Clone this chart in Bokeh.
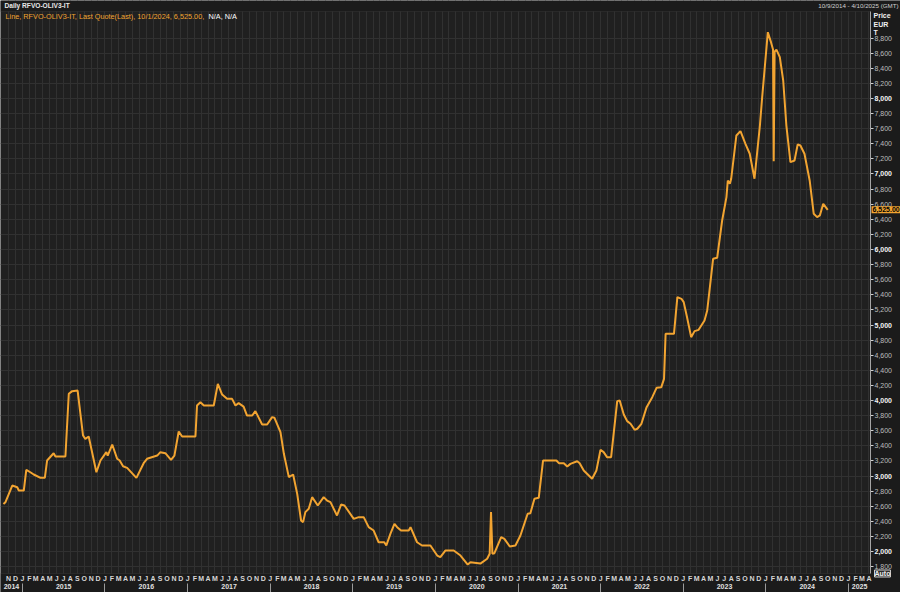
import pandas as pd
from bokeh.plotting import figure
from bokeh.models import (Range1d, FixedTicker, LinearAxis, Label, NumeralTickFormatter,
                          BoxAnnotation)
from bokeh.embed import file_html
from bokeh.resources import INLINE

# ---------------- data ----------------
dates = [
    "2014-10-09", "2014-10-18", "2014-11-17", "2014-12-09", "2014-12-16",
    "2015-01-07", "2015-01-18", "2015-02-05", "2015-02-20", "2015-03-22", "2015-04-10", "2015-04-20",
    "2015-05-19", "2015-05-27", "2015-07-10", "2015-07-25", "2015-08-09", "2015-09-02", "2015-09-26",
    "2015-10-06", "2015-10-21", "2015-11-24", "2015-12-12",
    "2016-01-07", "2016-01-13", "2016-02-02", "2016-02-24", "2016-03-06", "2016-03-21", "2016-04-08",
    "2016-05-19", "2016-06-20", "2016-07-05", "2016-08-19", "2016-09-02", "2016-09-24", "2016-10-19",
    "2016-11-03", "2016-11-22", "2016-12-07",
    "2017-02-04", "2017-02-11", "2017-02-26", "2017-03-13", "2017-04-26", "2017-05-14", "2017-06-02",
    "2017-06-24", "2017-07-16", "2017-07-31", "2017-08-14", "2017-09-05", "2017-09-20", "2017-10-13",
    "2017-10-27", "2017-11-26", "2017-12-18",
    "2018-01-09", "2018-01-19", "2018-02-15", "2018-03-02", "2018-03-24", "2018-04-12", "2018-04-30",
    "2018-05-17", "2018-05-26", "2018-06-05", "2018-06-20", "2018-07-05", "2018-07-30", "2018-08-25",
    "2018-09-09", "2018-09-24", "2018-10-23", "2018-11-10", "2018-11-25",
    "2019-01-05", "2019-01-27", "2019-02-18", "2019-03-12", "2019-04-03", "2019-04-25", "2019-05-20",
    "2019-05-29", "2019-06-16", "2019-07-04", "2019-07-16", "2019-08-02", "2019-09-05", "2019-09-13",
    "2019-10-12", "2019-11-03", "2019-12-10",
    "2020-01-09", "2020-01-23", "2020-02-14", "2020-03-22", "2020-04-21", "2020-05-23", "2020-06-04",
    "2020-07-18", "2020-08-17", "2020-08-28", "2020-09-03", "2020-09-09", "2020-09-18", "2020-10-18",
    "2020-11-01", "2020-11-25", "2020-12-20",
    "2021-01-11", "2021-02-12", "2021-02-24", "2021-03-14", "2021-04-02", "2021-04-21", "2021-06-19",
    "2021-06-30", "2021-07-22", "2021-08-06", "2021-08-20", "2021-09-19", "2021-09-30", "2021-10-18",
    "2021-11-24", "2021-12-13", "2021-12-31",
    "2022-01-14", "2022-01-29", "2022-02-16", "2022-03-15", "2022-03-26", "2022-04-13", "2022-04-28",
    "2022-05-13", "2022-05-31", "2022-06-12", "2022-06-30", "2022-07-23", "2022-08-17", "2022-09-05",
    "2022-09-26", "2022-10-08", "2022-10-15", "2022-11-21", "2022-12-06", "2022-12-24",
    "2023-01-03", "2023-01-18", "2023-02-05", "2023-02-20", "2023-03-10", "2023-04-05", "2023-04-17",
    "2023-05-13", "2023-05-31", "2023-06-22", "2023-07-11", "2023-07-17", "2023-07-26", "2023-08-01",
    "2023-08-24", "2023-09-11", "2023-10-03", "2023-10-22", "2023-11-12", "2023-12-06", "2023-12-16",
    "2024-01-10", "2024-01-24", "2024-02-02", "2024-02-05", "2024-02-09", "2024-02-17", "2024-03-03",
    "2024-03-18", "2024-04-01", "2024-04-19", "2024-05-07", "2024-05-21", "2024-06-02", "2024-06-20",
    "2024-07-13", "2024-07-31", "2024-08-15", "2024-08-27", "2024-09-11", "2024-10-01",
]
prices = [
    2630, 2654, 2874, 2852, 2808,
    2808, 3082, 3050, 3020, 2976, 2976, 3205, 3302, 3258, 3258, 4089, 4124, 4132, 3536, 3492, 3523, 3050, 3205,
    3316, 3271, 3417, 3228, 3205, 3130, 3108, 2976, 3170, 3228, 3271, 3316, 3302, 3214, 3271, 3589, 3523,
    3523, 3934, 3978, 3934, 3934, 4221, 4079, 4022, 4022, 3934, 3965, 3920, 3801, 3801, 3860, 3682, 3682,
    3780, 3772, 3581, 3294, 2985, 3020, 2764, 2411, 2389, 2522, 2566, 2720, 2610, 2720, 2675, 2654, 2477,
    2622, 2610,
    2433, 2455, 2455, 2323, 2278, 2123, 2123, 2080, 2234, 2367, 2323, 2278, 2278, 2323, 2123, 2080, 2080,
    1947, 1925, 2013, 2013, 1947, 1828, 1859, 1840, 1904, 1970, 2522, 1970, 1978, 2190, 2168, 2066, 2080,
    2212, 2500, 2508, 2698, 2712, 3205, 3205, 3170, 3170, 3126, 3161, 3196, 3170, 3073, 2963, 3073, 3347,
    3316, 3250, 3250, 3992, 4000, 3815, 3727, 3692, 3612, 3626, 3692, 3912, 4044, 4168, 4177, 4287, 4883,
    4883, 5369, 5347,
    5303, 5100, 4839, 4919, 4936, 5060, 5192, 5877, 5890, 6384, 6694, 6914, 6870, 6937, 7510, 7568, 7400,
    7268, 6937, 7642, 8017,
    8878, 8746, 8650, 7170, 8620, 8646, 8548, 8238, 7642, 7157, 7179, 7391, 7378, 7268, 6914, 6473, 6429,
    6451, 6605, 6525,
]
month_letters = ["J", "F", "M", "A", "M", "J", "J", "A", "S", "O", "N", "D"]
year_labels = ["2014", "2015", "2016", "2017", "2018", "2019", "2020", "2021", "2022", "2023", "2024", "2025"]
first_month, last_month = "2014-11-01", "2025-04-01"
y_ticks = list(range(1800, 9000, 200))
x_start, x_end = "2014-09-26", "2025-04-08"
y_start, y_end = 1709, 9152
ticker_name = "RFVO-OLIV3-IT"
last_date_text = "10/1/2024"
header_range = "10/9/2014 - 4/10/2025 (GMT)"
unit_labels = ["Price", "EUR", "T"]

# ---------------- layout / style ----------------
W, H = 900, 592
PLOT_W = 870          # px of the price area (left of the price scale)
HEADER_H = 11         # px of the header bar above the price area
BOTTOM_H = 19         # px of the month / year rows
PLOT_H = H - HEADER_H - BOTTOM_H
ORANGE = "#f2a431"
FONT = "Liberation Sans"
BG = "#202020"
BORDER = "#1b1b1b"
GRID = "#313131"


def ms(d):
    return int(pd.Timestamp(d).value // 10**6)


x0, x1 = ms(x_start), ms(x_end)
x_per_px = (x1 - x0) / PLOT_W
y_per_px = (y_end - y_start) / PLOT_H
xr_end = x1 + (W - PLOT_W) * x_per_px
yr_end = y_end + HEADER_H * y_per_px
yr_start = y_start - BOTTOM_H * y_per_px


def cx(px):
    return x0 + px * x_per_px


def cy(py):
    return yr_end - py * y_per_px


p = figure(width=W, height=H, output_backend="svg", toolbar_location=None,
           x_axis_type="datetime", y_axis_location="right",
           x_range=Range1d(x0, xr_end), y_range=Range1d(yr_start, yr_end),
           min_border_left=0, min_border_right=0, min_border_top=0, min_border_bottom=0)
p.background_fill_color = BG
p.border_fill_color = BORDER
p.outline_line_color = None

# grids
months = pd.date_range(first_month, last_month, freq="MS")
month_ticks = [ms(m) for m in months]
p.xgrid.ticker = FixedTicker(ticks=month_ticks)
p.ygrid.ticker = FixedTicker(ticks=y_ticks)
p.xgrid.grid_line_color = GRID
p.ygrid.grid_line_color = GRID

# header bar, price-scale panel and date rows (cover the grid there)
p.quad(left=[x0], right=[xr_end], bottom=[y_end], top=[yr_end], fill_color=BORDER, line_color=None)
p.quad(left=[x1], right=[xr_end], bottom=[y_start], top=[y_end], fill_color=BORDER, line_color=None)
p.quad(left=[x0], right=[xr_end], bottom=[yr_start], top=[y_start], fill_color=BORDER, line_color=None)

# price line
p.line(x=pd.to_datetime(dates), y=prices, line_color=ORANGE, line_width=2)

# border of the price area
p.add_layout(BoxAnnotation(left=x0, right=x1, bottom=y_start, top=y_end, fill_alpha=0,
                           line_color="#474747", line_width=1))

# month row
xa = p.xaxis[0]
xa.fixed_location = y_start
xa.ticker = FixedTicker(ticks=month_ticks)
xa.major_label_overrides = {ms(m): month_letters[m.month - 1] for m in months}
xa.major_tick_line_color = None
xa.minor_tick_line_color = None
xa.major_tick_out = 0
xa.major_tick_in = 0
xa.axis_line_color = None
xa.major_label_standoff = 1
xa.major_label_text_font = FONT
xa.major_label_text_font_size = "7px"
xa.major_label_text_font_style = "bold"
xa.major_label_text_color = "#d6d6d6"

# year row: labels centred in each year
year_row = cy(H - 9)
year_starts = [ms(f"{y}-01-01") for y in year_labels[1:]]
year_mids = []
for y in year_labels:
    a = max(x0, ms(f"{y}-01-01"))
    b = min(x1, ms(f"{int(y) + 1}-01-01"))
    year_mids.append((a + b) // 2)
yr_axis = LinearAxis(fixed_location=year_row, ticker=FixedTicker(ticks=year_mids),
                     major_label_overrides={m: y for m, y in zip(year_mids, year_labels)})
yr_axis.axis_line_color = None
yr_axis.major_tick_line_color = None
yr_axis.minor_tick_line_color = None
yr_axis.major_tick_out = 0
yr_axis.major_tick_in = 0
yr_axis.major_label_standoff = 0
yr_axis.major_label_text_font = FONT
yr_axis.major_label_text_font_size = "7px"
yr_axis.major_label_text_font_style = "bold"
yr_axis.major_label_text_color = "#e0e0e0"
p.add_layout(yr_axis, "below")

# year row: separators at each new year
sep_axis = LinearAxis(fixed_location=year_row, ticker=FixedTicker(ticks=year_starts),
                      major_label_overrides={t: "" for t in year_starts})
sep_axis.axis_line_color = None
sep_axis.minor_tick_line_color = None
sep_axis.major_tick_line_color = "#9a9a9a"
sep_axis.major_tick_out = 9
sep_axis.major_tick_in = 0
sep_axis.major_label_text_font_size = "7px"
p.add_layout(sep_axis, "below")

# price scale drawn at the right end of the price area
ya = p.yaxis[0]
ya.fixed_location = x1
ya.bounds = (y_start, y_end)
ya.ticker = FixedTicker(ticks=y_ticks)
ya.formatter = NumeralTickFormatter(format="0,0")
ya.major_label_overrides = {t: "" for t in y_ticks if t % 1000 == 0}
ya.axis_line_color = "#cfcfcf"
ya.major_tick_line_color = "#cfcfcf"
ya.major_tick_out = 3
ya.major_tick_in = 0
ya.minor_tick_line_color = None
ya.major_label_standoff = 1
ya.major_label_text_font = FONT
ya.major_label_text_font_size = "7px"
ya.major_label_text_color = "#bdbdbd"

thousands = [t for t in y_ticks if t % 1000 == 0]
ya2 = LinearAxis(fixed_location=x1, bounds=(y_start, y_end), ticker=FixedTicker(ticks=thousands),
                 formatter=NumeralTickFormatter(format="0,0"))
ya2.axis_line_color = None
ya2.major_tick_line_color = None
ya2.minor_tick_line_color = None
ya2.major_tick_out = 3
ya2.major_tick_in = 0
ya2.major_label_standoff = 1
ya2.major_label_text_font = FONT
ya2.major_label_text_font_size = "7px"
ya2.major_label_text_font_style = "bold"
ya2.major_label_text_color = "#f4f4f4"
p.add_layout(ya2, "right")

# last price tag
p.add_layout(Label(x=x1, y=prices[-1], x_offset=1, text=f"{prices[-1]:,.2f}",
                   text_baseline="middle", text_align="left", text_font=FONT,
                   text_font_size="7px", text_font_style="bold", text_color="#000000",
                   background_fill_color=ORANGE, padding=1))

# header texts
p.add_layout(Label(x=cx(4), y=cy(5), text=f"Daily {ticker_name}",
                   text_baseline="middle", text_font=FONT, text_font_size="6.6px",
                   text_font_style="bold", text_color="#e8e8e8"))
p.add_layout(Label(x=cx(W - 2), y=cy(5), text=header_range,
                   text_baseline="middle", text_align="right", text_font=FONT,
                   text_font_size="6.2px", text_color="#cfcfcf"))
legend_text = f"Line, {ticker_name}, Last Quote(Last), {last_date_text}, {prices[-1]:,.2f}, "
p.add_layout(Label(x=cx(5), y=cy(16), text=legend_text,
                   text_baseline="middle", text_font=FONT, text_font_size="7.3px",
                   text_color=ORANGE))
p.add_layout(Label(x=cx(208), y=cy(16), text="N/A, N/A",
                   text_baseline="middle", text_font=FONT, text_font_size="7.3px",
                   text_color="#ffffff"))
for i, t in enumerate(unit_labels):
    p.add_layout(Label(x=x1, x_offset=3, y=cy(15 + 8.5 * i), text=t,
                       text_baseline="middle", text_font=FONT, text_font_size="7px",
                       text_font_style="bold", text_color="#f0f0f0"))
p.add_layout(Label(x=x1, x_offset=4, y=cy(573), text="Auto",
                   text_baseline="middle", text_font=FONT, text_font_size="7px",
                   text_font_style="bold", text_color="#f0f0f0",
                   border_line_color="#d0d0d0", background_fill_color="#2c2c2c", padding=0))

open("out.html", "w").write(file_html(p, INLINE))
